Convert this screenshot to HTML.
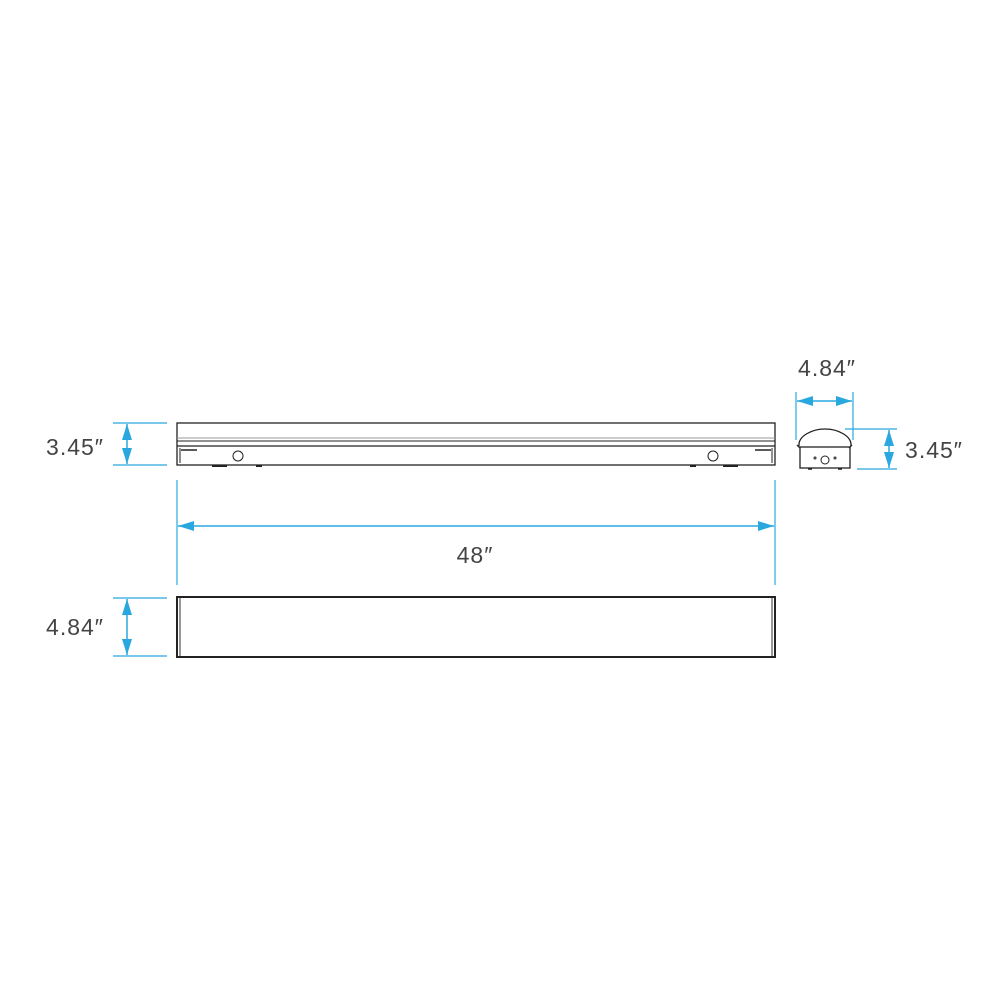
<!DOCTYPE html>
<html><head><meta charset="utf-8"><style>
html,body{margin:0;padding:0;background:#fff;width:1000px;height:1000px;overflow:hidden}
text{font-family:"Liberation Sans",sans-serif;font-size:23px;fill:#444;letter-spacing:1px}
</style></head><body>
<svg width="1000" height="1000" viewBox="0 0 1000 1000" xmlns="http://www.w3.org/2000/svg">
<defs>
<marker id="b" viewBox="0 0 10 10" refX="10" refY="5" markerWidth="16" markerHeight="10" orient="auto-start-reverse" markerUnits="userSpaceOnUse" preserveAspectRatio="none">
<path d="M0,0 L10,5 L0,10 z" fill="#29a8e0"/></marker>
</defs>
<g stroke="#29a8e0" stroke-width="1.2" fill="none">
<line x1="113" y1="423" x2="167" y2="423"/><line x1="113" y1="465" x2="167" y2="465"/>
<line x1="127" y1="424" x2="127" y2="464" stroke-width="1.5" marker-start="url(#b)" marker-end="url(#b)"/>
<line x1="177" y1="480" x2="177" y2="585"/><line x1="775" y1="480" x2="775" y2="585"/>
<line x1="178" y1="526" x2="774" y2="526" stroke-width="1.5" marker-start="url(#b)" marker-end="url(#b)"/>
<line x1="113" y1="598" x2="167" y2="598"/><line x1="113" y1="656" x2="167" y2="656"/>
<line x1="127" y1="599" x2="127" y2="655" stroke-width="1.5" marker-start="url(#b)" marker-end="url(#b)"/>
<line x1="796" y1="392" x2="796" y2="440"/><line x1="853" y1="392" x2="853" y2="440"/>
<line x1="797" y1="401" x2="852" y2="401" stroke-width="1.5" marker-start="url(#b)" marker-end="url(#b)"/>
<line x1="845" y1="429" x2="897" y2="429"/><line x1="857" y1="469" x2="897" y2="469"/>
<line x1="889" y1="430" x2="889" y2="468" stroke-width="1.5" marker-start="url(#b)" marker-end="url(#b)"/>
</g>
<g stroke="#222" fill="none">
<rect x="177" y="423" width="598" height="42" stroke-width="1.3"/>
<line x1="177" y1="438" x2="775" y2="438" stroke="#999" stroke-width="1"/>
<line x1="177" y1="441" x2="775" y2="441" stroke-width="1"/>
<line x1="177" y1="446" x2="775" y2="446" stroke-width="1.3"/>
<line x1="180" y1="448" x2="180" y2="463" stroke-width="1"/>
<line x1="772" y1="448" x2="772" y2="463" stroke-width="1"/>
<line x1="181" y1="450" x2="197" y2="450" stroke-width="1.5"/>
<line x1="755" y1="450" x2="771" y2="450" stroke-width="1.5"/>
<circle cx="238" cy="456" r="5" stroke-width="1"/>
<circle cx="713" cy="456" r="5" stroke-width="1"/>
<line x1="212" y1="466" x2="227" y2="466" stroke-width="2"/>
<line x1="256" y1="466" x2="262" y2="466" stroke-width="2"/>
<line x1="690" y1="466" x2="696" y2="466" stroke-width="2"/>
<line x1="723" y1="466" x2="738" y2="466" stroke-width="2"/>
<rect x="177" y="597" width="598" height="60" stroke-width="2"/>
<line x1="180" y1="598" x2="180" y2="656" stroke="#999" stroke-width="2"/>
<line x1="772" y1="598" x2="772" y2="656" stroke="#999" stroke-width="2"/>
<path d="M799,446 C798,436 812,429 825,429 C838,429 852,436 851,446" stroke-width="1.3"/>
<path d="M797,445 L800,448 M852,445 L849,448" stroke-width="1.3"/>
<rect x="800" y="447" width="50" height="21" stroke-width="1.3"/>
<circle cx="825" cy="460" r="4" stroke-width="1"/>
<circle cx="815" cy="458" r="1" stroke-width="1"/>
<circle cx="835" cy="458" r="1" stroke-width="1"/>
<line x1="808" y1="469" x2="812" y2="469" stroke-width="1.5"/>
<line x1="838" y1="469" x2="842" y2="469" stroke-width="1.5"/>
</g>
<text x="75" y="455" text-anchor="middle">3.45″</text>
<text x="475" y="563" text-anchor="middle">48″</text>
<text x="75" y="635" text-anchor="middle">4.84″</text>
<text x="827" y="376" text-anchor="middle">4.84″</text>
<text x="934" y="458" text-anchor="middle">3.45″</text>
</svg>
</body></html>
